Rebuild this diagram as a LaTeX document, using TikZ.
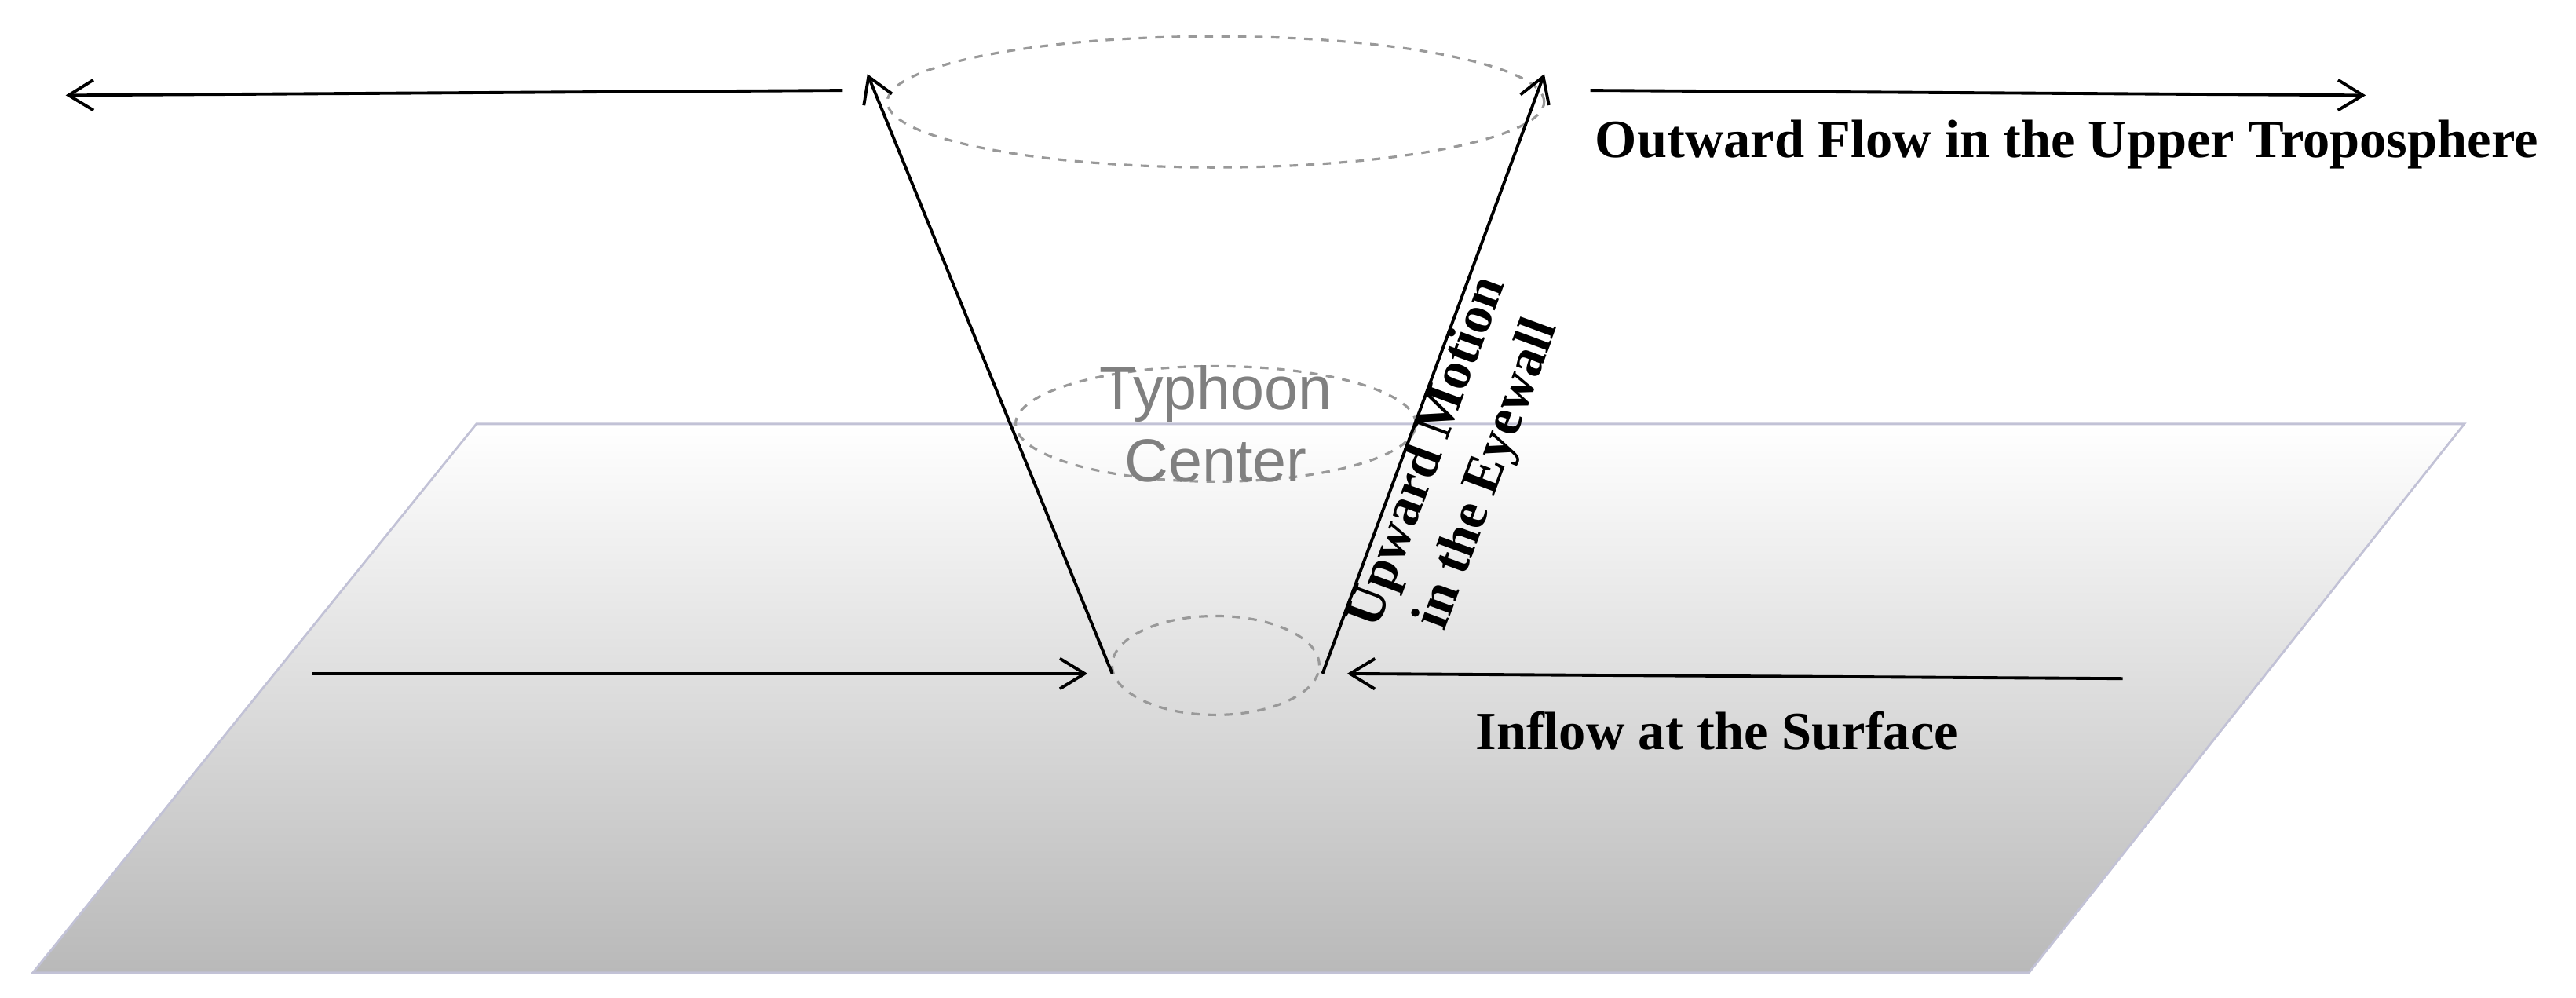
\documentclass[tikz,border=0pt]{standalone}
\usepackage{fontspec}
\setmainfont{Liberation Serif}
\newfontfamily\labelsans{Liberation Sans}
\usetikzlibrary{shapes.geometric,arrows.meta}
\tikzset{%
  flow/.style={
    draw,
    line width=1.1pt,
    -{Straight Barb[length=9pt,width=11pt]}
  },
  ring/.style={
    ellipse,
    draw=gray!80,
    dashed,
    line width=0.9pt,
    inner sep=0pt
  },
  flow label/.style={
    font=\bfseries\fontsize{19.5}{23}\selectfont,
    align=center
  },
}
\begin{document}
\begin{tikzpicture}[x=0.02093cm, y=-0.02093cm]
  \useasboundingbox (0,0) rectangle (1568,607);

  % Sea surface plane
  \shade [top color=white, bottom color=gray!55, draw=blue!20!gray!40, line width=0.8pt]
    (290,258) -- (1500,258) -- (1235,592) -- (20,592) -- cycle;

  % Rings of the eyewall
  \node [ring, minimum width=8.37cm, minimum height=1.67cm] (top) at (740,62) {};
  \node [ring, minimum width=5.1cm, minimum height=1.47cm] (mid) at (740,258) {};
  \node [ring, minimum width=2.64cm, minimum height=1.26cm] (low) at (740,405) {};

  % Free ends of the flows
  \coordinate (up-l) at (528,45);
  \coordinate (up-r) at (940,45);
  \coordinate (base-l) at (677,410);
  \coordinate (base-r) at (805,410);
  \coordinate (out-l-start) at (513,55);
  \coordinate (out-l-end) at (40,58);
  \coordinate (out-r-start) at (968,55);
  \coordinate (out-r-end) at (1440,58);
  \coordinate (in-l-start) at (190,410);
  \coordinate (in-l-end) at (662,410);
  \coordinate (in-r-start) at (1292,413);
  \coordinate (in-r-end) at (820,410);

  % Upward motion
  \draw [flow] (base-l) -- (up-l);
  \draw [flow] (base-r) -- (up-r);

  % Outward and inward flows
  \draw [flow] (out-l-start) -- (out-l-end);
  \draw [flow] (out-r-start) -- (out-r-end);
  \draw [flow] (in-l-start) -- (in-l-end);
  \draw [flow] (in-r-start) -- (in-r-end);

  % Labels
  \node [font=\labelsans\fontsize{22}{26}\selectfont, text=gray, align=center] (center) at (mid) {Typhoon\\Center};
  \node [flow label] (outward) at (1258,88) {Outward Flow in the Upper Troposphere};
  \node [flow label] (inflow) at (1045,445) {Inflow at the Surface};
  \node [flow label, rotate=69.7] (upward) at (888,282) {Upward Motion\\in the Eyewall};

\end{tikzpicture}
\end{document}
